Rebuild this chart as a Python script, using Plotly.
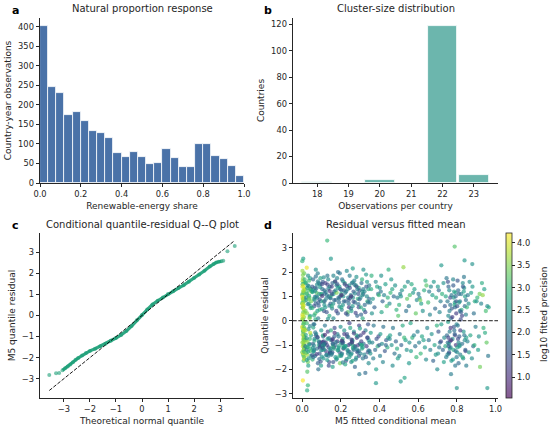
import plotly.graph_objects as go
import plotly.colors as pc

# ---------------- Panel a: histogram of renewable-energy share ----------------
a_bin_centers = [0.02, 0.06, 0.10, 0.14, 0.18, 0.22, 0.26, 0.30, 0.34, 0.38,
                 0.42, 0.46, 0.50, 0.54, 0.58, 0.62, 0.66, 0.70, 0.74, 0.78,
                 0.82, 0.86, 0.90, 0.94, 0.98]
a_counts = [403, 246, 231, 175, 181, 159, 134, 128, 115, 78,
            67, 79, 67, 50, 52, 86, 63, 42, 41, 99,
            101, 70, 62, 44, 17]
a_bin_width = 0.04

# ---------------- Panel b: cluster sizes ----------------
b_obs_per_country = [18, 19, 20, 21, 22, 23]
b_countries = [1, 0, 2, 0, 119, 6]

# ---------------- Panel c: Q-Q plot (theoretical, sample) ----------------
qq_theo = [-3.56, -3.30, -3.18, -3.05, -2.95, -2.85, -2.75, -2.65, -2.55, -2.45,
           -2.30, -2.15, -2.00, -1.80, -1.60, -1.40, -1.20, -1.00, -0.80, -0.60,
           -0.40, -0.20, 0.00, 0.20, 0.40, 0.60, 0.80, 1.00, 1.20, 1.40,
           1.60, 1.80, 2.00, 2.20, 2.40, 2.60, 2.75, 2.85, 2.95, 3.05,
           3.12, 3.28, 3.56]
qq_samp = [-2.82, -2.74, -2.73, -2.60, -2.50, -2.42, -2.32, -2.22, -2.10, -2.02,
           -1.90, -1.78, -1.68, -1.58, -1.46, -1.34, -1.20, -1.07, -0.92, -0.74,
           -0.50, -0.22, 0.02, 0.28, 0.52, 0.70, 0.86, 1.02, 1.15, 1.30,
           1.44, 1.60, 1.78, 1.95, 2.12, 2.32, 2.45, 2.52, 2.55, 2.57,
           2.60, 3.05, 3.30]

# ---------------- Panel d: residual vs fitted mean (hand-read, by strip of fitted mean) ----------------
d_strips = {}
d_strips["A"] = (
    [0.006,0.001,0.011,0.004,0.009,0.002,0.013,0.007,0.003,0.010,
     0.005,0.012,0.001,0.008,0.003,0.010,0.006,0.002,0.011,0.004,
     0.009,0.007,0.001,0.012,0.005,0.008,0.003,0.010,0.006,0.013,
     0.002,0.009,0.004,0.011,0.007,0.001,0.005,0.012,0.008,0.003,
     0.010,0.006,0.002,0.009,0.004],
    [2.55,2.45,1.95,1.72,1.55,1.40,1.28,1.15,1.05,0.95,
     0.88,0.80,0.72,0.65,0.55,0.45,0.35,0.25,0.15,0.05,
     -0.05,-0.15,-0.25,-0.35,-0.42,-0.50,-0.58,-0.66,-0.74,-0.82,
     -0.90,-0.98,-1.06,-1.14,-1.22,-1.30,-1.40,-1.52,-1.65,1.62,
     1.20,0.60,-0.30,-0.78,-2.46],
    [2.6,2.9,3.3,3.6,3.1,3.9,3.4,2.8,3.7,3.2,
     4.0,3.5,3.0,3.8,2.7,4.1,3.3,3.9,3.6,3.0,
     3.4,2.9,4.0,3.7,3.2,4.2,3.5,2.8,3.9,3.1,
     3.6,3.3,4.0,2.7,3.8,3.4,3.1,3.6,3.0,3.7,
     3.5,4.1,3.9,3.2,4.2])
d_strips["A2"] = (
    [0.004,0.010,0.001,0.007,0.013,0.003,0.009,0.005,0.011,0.002,
     0.008,0.012,0.006,0.001,0.010,0.004,0.013,0.007,0.003,0.009,
     0.005,0.011,0.002,0.008,0.006,0.012,0.001,0.010,0.004,0.007],
    [1.88,-0.62,1.08,-1.35,0.32,1.50,-0.95,0.78,-1.58,2.05,
     -0.12,1.33,-0.45,0.98,-1.18,0.52,1.70,-0.85,0.18,-1.48,
     1.22,-0.28,0.68,-1.02,1.45,-0.70,0.08,-1.28,0.90,-0.38],
    [3.5,3.9,3.2,4.1,3.7,3.0,3.8,3.4,4.0,3.6,
     3.3,3.9,3.1,4.2,3.5,3.8,3.0,3.6,4.0,3.3,
     3.7,3.2,3.9,3.5,4.1,3.4,3.8,3.0,3.6,3.9])
d_strips["B"] = (
    [0.031,0.019,0.044,0.026,0.038,0.022,0.047,0.029,0.035,0.018,
     0.041,0.024,0.033,0.046,0.020,0.037,0.028,0.043,0.025,0.034,
     0.017,0.040,0.030,0.045,0.021,0.036,0.027,0.042,0.023,0.039,
     0.032,0.024,0.030,0.026,0.027],
    [1.85,1.55,1.30,1.10,0.95,0.85,1.20,1.45,0.70,0.40,
     0.20,-0.10,-0.35,-0.60,-0.80,-0.95,-1.10,-1.25,-1.40,-1.55,
     -1.05,-0.75,-1.70,0.60,0.95,1.65,1.35,-0.50,-1.20,0.15,
     -1.85,2.18,-2.66,-2.87,-2.10],
    [2.4,3.0,2.1,2.7,3.3,2.5,3.6,2.2,2.9,3.4,
     2.6,3.1,2.3,2.8,3.5,2.0,2.7,3.2,3.7,2.4,
     1.9,3.0,3.4,2.6,2.2,3.1,2.5,3.8,2.1,2.9,
     2.6,4.1,3.0,2.8,3.2])
d_strips["B2"] = (
    [0.036,0.021,0.044,0.028,0.017,0.040,0.032,0.024,0.047,0.019,
     0.034,0.042,0.026,0.038,0.022,0.045,0.030,0.018,0.041,0.027,
     0.035,0.023,0.046,0.031,0.039],
    [1.02,-1.32,0.52,-0.88,1.58,-0.22,1.25,-1.62,0.80,-0.58,
     1.42,-1.15,0.30,-0.98,1.12,-1.45,0.68,-0.40,1.75,-1.08,
     0.88,-0.72,1.30,-1.28,0.10],
    [2.8,3.3,2.4,3.6,2.9,2.2,3.1,2.6,3.4,2.7,
     2.3,3.0,3.5,2.5,3.2,2.8,2.1,3.7,2.6,2.9,
     3.3,2.4,3.0,2.7,3.5])
d_strips["C"] = (
    [0.081,0.057,0.093,0.066,0.052,0.088,0.074,0.061,0.097,0.070,
     0.055,0.085,0.063,0.091,0.078,0.053,0.095,0.068,0.083,0.059,
     0.099,0.072,0.064,0.087,0.056,0.094,0.077,0.060,0.090,0.067,
     0.054,0.082,0.073,0.096,0.062,0.086,0.058,0.079,0.092,0.065,
     0.075,0.098,0.071,0.084,0.069],
    [1.95,1.70,1.50,1.35,1.20,1.10,1.00,0.90,0.80,0.70,
     1.25,1.55,0.60,0.45,0.95,1.40,1.75,0.30,0.10,-0.15,
     -0.40,-0.60,-0.75,-0.85,-0.95,-1.05,-1.15,-1.25,-1.35,-1.45,
     -1.60,-1.75,-0.55,-0.90,-1.20,-1.00,-1.50,-0.70,-1.10,0.85,
     1.15,-1.85,2.10,-2.00,0.05],
    [2.1,1.8,2.5,1.5,2.8,2.2,1.9,3.0,2.4,1.7,
     2.6,2.0,1.4,2.9,2.3,1.6,2.7,3.1,2.0,1.8,
     2.5,1.3,2.2,2.8,1.6,2.4,1.9,2.6,1.5,2.1,
     2.9,1.7,2.3,1.4,2.0,2.7,1.8,2.5,1.3,2.2,
     3.2,2.6,2.4,1.9,2.8])
d_strips["C2"] = (
    [0.073,0.056,0.091,0.064,0.082,0.052,0.097,0.068,0.086,0.059,
     0.077,0.094,0.062,0.089,0.054,0.080,0.066,0.099,0.071,0.058,
     0.084,0.061,0.093,0.075,0.053,0.088,0.067,0.096,0.079,0.063],
    [1.32,-1.12,0.88,-0.82,1.62,-1.42,1.08,-0.48,0.62,-1.28,
     1.48,-0.98,0.22,-1.58,1.18,-0.68,0.98,-1.22,1.82,-0.28,
     0.75,-1.02,1.38,-1.38,0.52,-0.88,1.22,-1.68,0.40,-0.15],
    [1.9,2.4,1.6,2.7,2.2,1.5,2.9,2.0,1.7,2.5,
     2.3,1.4,2.8,1.8,2.6,1.3,2.1,2.4,1.9,2.7,
     1.6,2.2,2.5,1.2,2.9,1.8,2.3,1.5,2.6,2.0])
d_strips["D"] = (
    [0.131,0.107,0.143,0.116,0.102,0.138,0.124,0.111,0.147,0.120,
     0.105,0.135,0.113,0.141,0.128,0.103,0.145,0.118,0.133,0.109,
     0.149,0.122,0.114,0.137,0.106,0.144,0.127,0.110,0.140,0.117,
     0.104,0.132,0.123,0.146,0.112,0.136,0.108,0.129,0.142,0.115,
     0.130,0.149],
    [1.85,1.60,1.40,1.25,1.10,1.00,0.90,0.80,0.70,0.55,
     1.30,1.70,0.40,0.20,1.05,1.50,0.95,-0.20,-0.45,-0.65,
     -0.80,-0.90,-1.00,-1.10,-1.20,-1.30,-1.40,-1.55,-1.70,-0.95,
     -1.05,-0.75,-1.25,-1.15,-0.85,-1.45,-0.60,-1.00,-1.35,0.65,
     3.30,2.55],
    [2.0,1.6,2.4,1.8,2.7,1.4,2.2,2.9,1.7,2.5,
     1.9,2.3,1.5,2.8,2.1,1.3,2.6,2.0,1.2,1.8,
     2.4,1.1,2.7,1.5,2.2,1.0,1.9,2.5,1.4,2.1,
     1.7,2.6,1.2,2.3,1.6,2.0,2.8,1.3,1.9,2.4,
     3.0,2.5])
d_strips["D2"] = (
    [0.123,0.106,0.141,0.114,0.132,0.102,0.147,0.118,0.136,0.109,
     0.127,0.144,0.112,0.139,0.104,0.130,0.116,0.149,0.121,0.108,
     0.134,0.111,0.143,0.125,0.103,0.138,0.117,0.146],
    [1.18,-0.88,0.62,-1.18,1.48,-1.48,0.92,-0.58,1.32,-1.02,
     0.35,-1.32,1.78,-0.72,1.02,-1.62,0.80,-0.40,1.55,-1.12,
     0.08,-0.95,1.22,-1.42,0.48,-1.85,1.12,-1.22],
    [2.2,1.1,1.9,2.6,1.4,2.4,1.8,0.9,2.1,2.7,
     1.5,1.3,2.3,2.0,1.0,2.5,1.7,2.8,1.2,1.6,
     2.4,1.9,1.1,2.2,2.6,1.4,1.8,2.3])
d_strips["E"] = (
    [0.181,0.157,0.193,0.166,0.152,0.188,0.174,0.161,0.197,0.170,
     0.155,0.185,0.163,0.191,0.178,0.153,0.195,0.168,0.183,0.159,
     0.199,0.172,0.164,0.187,0.156,0.194,0.177,0.160,0.190,0.167,
     0.154,0.182,0.173,0.196,0.162,0.186,0.158,0.179],
    [1.75,1.55,1.40,1.20,1.05,0.95,0.85,0.70,1.30,1.60,
     0.50,0.30,1.10,0.90,1.45,0.60,1.95,-0.30,-0.55,-0.75,
     -0.90,-1.00,-1.10,-1.20,-1.30,-1.45,-1.60,-0.95,-1.05,-0.65,
     -1.35,-0.85,-1.50,-1.75,0.10,2.00,-1.90,1.15],
    [2.2,1.7,2.6,1.5,2.9,2.0,1.8,2.4,1.3,2.7,
     2.1,1.6,2.5,1.9,2.3,2.8,2.0,1.4,2.2,1.1,
     2.6,1.8,1.0,2.4,1.5,2.9,2.1,1.3,2.7,1.7,
     2.0,1.2,2.5,3.4,2.3,1.9,2.6,3.5])
d_strips["E2"] = (
    [0.173,0.156,0.191,0.164,0.182,0.152,0.197,0.168,0.186,0.159,
     0.177,0.194,0.162,0.189,0.154,0.180,0.166,0.199,0.171,0.158,
     0.184,0.161,0.193,0.175,0.153,0.188],
    [1.25,-0.80,0.75,-1.15,1.50,-1.40,1.00,-0.50,1.35,-1.05,
     0.40,-1.30,1.85,-0.65,1.10,-1.55,0.85,-0.25,1.62,-0.95,
     -1.22,-1.70,0.58,-0.88,1.40,-1.12],
    [2.3,1.2,1.9,2.7,1.5,2.1,1.7,1.0,2.5,2.8,
     1.3,1.6,2.2,2.0,1.4,2.6,1.8,2.4,1.1,1.9,
     2.7,1.5,2.3,2.0,1.2,2.5])
d_strips["F"] = (
    [0.231,0.207,0.243,0.216,0.202,0.238,0.224,0.211,0.247,0.220,
     0.205,0.235,0.213,0.241,0.228,0.203,0.245,0.218,0.233,0.209,
     0.249,0.222,0.214,0.237,0.206,0.244,0.227,0.210,0.240,0.217,
     0.204,0.232,0.223,0.246,0.212,0.236],
    [2.05,1.70,1.45,1.25,1.10,0.95,0.80,0.65,1.35,1.55,
     0.45,0.25,1.00,0.85,1.20,0.55,-0.10,-0.40,-0.65,-0.85,
     -0.95,-1.05,-1.15,-1.25,-1.35,-1.50,-1.65,-0.75,-1.00,-1.10,
     -1.40,-0.55,-1.80,1.85,-0.90,0.35],
    [2.3,1.9,2.6,1.5,2.8,2.1,1.7,2.4,1.4,2.9,
     2.2,1.8,2.5,1.6,2.0,2.7,1.3,2.4,1.1,2.0,
     1.6,2.6,1.0,2.2,1.8,2.5,1.4,2.8,1.2,1.9,
     2.3,1.5,2.7,2.1,1.7,3.2])
d_strips["F2"] = (
    [0.223,0.206,0.241,0.214,0.232,0.202,0.247,0.218,0.236,0.209,
     0.227,0.244,0.212,0.239,0.204,0.230,0.216,0.249,0.221,0.208,
     0.234,0.211,0.243,0.225,0.203,0.238],
    [1.15,-0.82,0.70,-1.12,1.42,-1.45,0.92,-0.55,1.30,-1.00,
     0.30,-1.28,1.62,-0.68,1.05,-1.58,0.80,-0.30,1.50,-0.92,
     -1.20,-1.72,0.55,-1.05,1.25,-1.35],
    [2.1,1.0,1.9,2.6,1.3,2.4,1.6,1.2,2.2,2.8,
     1.4,1.7,2.3,2.0,0.9,2.5,1.8,2.7,1.3,1.5,
     2.4,2.1,1.1,2.6,1.9,2.2])
d_strips["G"] = (
    [0.281,0.257,0.293,0.266,0.252,0.288,0.274,0.261,0.297,0.270,
     0.255,0.285,0.263,0.291,0.278,0.253,0.295,0.268,0.283,0.259,
     0.299,0.272,0.264,0.287,0.256,0.294,0.277,0.260,0.290,0.267,
     0.254,0.282,0.273,0.296,0.262,0.286],
    [1.80,1.55,1.35,1.20,1.05,0.90,0.75,0.60,1.25,1.65,
     0.40,0.20,0.95,1.10,1.45,0.50,-0.20,-0.45,-0.70,-0.85,
     -0.95,-1.05,-1.15,-1.25,-1.35,-1.45,-1.60,-0.80,-1.00,-1.20,
     -1.70,-0.60,-1.90,-2.20,2.15,-1.30],
    [2.4,1.8,2.7,1.6,2.2,2.9,1.9,2.5,1.4,2.1,
     2.6,1.7,2.3,1.5,2.8,2.0,1.3,2.5,1.1,1.9,
     2.4,1.0,2.7,1.6,2.2,1.4,2.0,2.6,1.2,1.8,
     2.3,2.8,1.7,2.1,2.6,1.5])
d_strips["G2"] = (
    [0.273,0.256,0.291,0.264,0.282,0.252,0.297,0.268,0.286,0.259,
     0.277,0.294,0.262,0.289,0.254,0.280,0.266,0.299,0.271,0.258,
     0.284,0.261,0.293,0.275],
    [1.12,-0.78,0.68,-1.10,1.40,-1.40,0.88,-0.52,1.28,-0.98,
     0.32,-1.25,1.58,-0.65,1.00,-1.52,0.78,-0.32,1.48,-0.90,
     -1.18,-1.65,0.55,-1.08],
    [2.2,1.1,1.9,2.7,1.4,2.5,1.6,1.2,2.1,2.8,
     1.3,1.8,2.3,2.0,1.0,2.4,1.5,2.6,1.9,1.1,
     2.2,2.7,1.4,2.0])
d_strips["H"] = (
    [0.331,0.307,0.343,0.316,0.302,0.338,0.324,0.311,0.347,0.320,
     0.305,0.335,0.313,0.341,0.328,0.303,0.345,0.318,0.333,0.309,
     0.349,0.322,0.314,0.337,0.306,0.344,0.327,0.310,0.340,0.317],
    [1.90,1.55,1.30,1.10,0.95,0.80,0.65,1.20,1.45,0.45,
     0.25,1.00,0.10,-0.15,-0.40,-0.60,-0.80,-0.95,-1.05,-1.15,
     -1.25,-1.40,-1.55,-0.70,-1.00,-1.75,-2.15,1.70,-1.30,2.10],
    [2.5,1.9,2.7,1.6,2.2,2.9,1.8,2.4,2.0,2.6,
     1.7,2.3,2.8,1.5,2.1,1.3,2.5,1.9,1.2,2.7,
     1.6,2.2,2.0,1.4,2.6,2.3,1.8,2.9,1.5,2.4])
d_strips["H2"] = (
    [0.323,0.306,0.341,0.314,0.332,0.302,0.347,0.318,0.336,0.309,
     0.327,0.344,0.312,0.339,0.304,0.330,0.316,0.349],
    [1.20,-0.85,0.75,-1.10,1.40,-1.35,0.90,-0.50,1.60,-1.00,
     0.35,-1.22,1.05,-0.70,0.55,-1.50,1.30,-0.90],
    [2.3,1.3,1.9,2.6,1.6,2.2,1.8,1.1,2.5,2.7,
     1.4,2.0,2.4,1.5,2.8,1.7,2.1,2.3])
d_strips["I"] = (
    [0.381,0.357,0.393,0.366,0.352,0.388,0.374,0.361,0.397,0.370,
     0.355,0.385,0.363,0.391,0.378,0.353,0.395,0.368,0.383,0.359,
     0.399,0.382],
    [1.60,1.30,1.10,0.90,0.75,1.40,0.55,0.30,1.05,-0.20,
     -0.50,-0.75,-0.90,-1.05,-1.20,-1.35,-0.65,-1.55,-2.00,1.85,
     -1.00,-2.57],
    [2.3,2.8,1.9,2.5,2.1,2.7,1.7,2.4,3.0,2.0,
     2.6,1.5,2.2,2.8,1.8,2.4,1.4,2.1,2.6,2.9,
     1.6,2.5])
d_strips["J"] = (
    [0.431,0.407,0.443,0.416,0.402,0.438,0.424,0.411,0.447,0.420,
     0.405,0.435,0.413,0.441,0.428,0.403,0.445,0.418,0.433,0.409],
    [1.50,1.20,0.95,0.80,1.35,0.60,1.05,0.35,2.10,-0.25,
     -0.55,-0.80,-0.95,-1.10,-1.25,-1.45,-0.70,-1.70,-1.00,1.85],
    [2.6,2.0,2.9,1.7,2.4,3.1,2.2,2.7,2.9,1.9,
     2.5,1.6,2.3,2.8,1.5,2.1,2.6,2.2,1.8,2.4])
d_strips["K"] = (
    [0.481,0.457,0.493,0.466,0.452,0.488,0.474,0.461,0.497,0.470,
     0.455,0.485,0.463,0.491,0.478,0.453,0.495,0.468],
    [1.45,1.15,0.95,1.30,0.70,0.45,1.00,1.70,0.20,-0.30,
     -0.60,-0.85,-1.00,-1.15,-1.35,-0.75,-1.55,-1.85],
    [2.4,3.0,2.1,2.7,2.3,2.9,1.8,2.5,3.2,2.0,
     2.6,1.7,2.4,2.8,1.9,2.2,2.6,2.3])
d_strips["L"] = (
    [0.531,0.507,0.543,0.516,0.502,0.538,0.524,0.511,0.547,0.520,
     0.505,0.535,0.513,0.541,0.528,0.503,0.510,0.530],
    [1.40,1.10,0.90,1.25,0.65,0.40,2.20,1.00,1.60,-0.20,
     -0.55,-0.80,-1.00,-1.20,-0.70,-1.45,-2.50,-2.35],
    [2.7,2.1,3.3,2.4,2.9,1.9,3.6,2.5,2.2,2.8,
     2.0,2.6,1.7,2.4,3.0,2.2,2.5,2.7])
d_strips["M"] = (
    [0.581,0.557,0.593,0.566,0.552,0.588,0.574,0.561,0.597,0.570,
     0.555,0.585,0.563,0.591,0.578,0.553],
    [1.30,1.05,0.85,1.50,0.60,0.30,1.15,-0.10,-0.45,-0.70,
     -0.90,-1.05,-1.25,-1.50,-0.60,-1.75],
    [2.6,3.1,2.3,2.8,2.0,3.3,2.5,2.7,2.1,2.9,
     2.4,1.9,2.6,3.0,2.2,2.5])
d_strips["N"] = (
    [0.631,0.607,0.643,0.616,0.602,0.638,0.624,0.611,0.647,0.620,
     0.605,0.635,0.613,0.641,0.628],
    [1.25,0.95,1.45,0.70,1.10,1.65,0.40,0.85,-0.30,-0.65,
     -0.90,-1.10,-1.35,-1.60,-0.80],
    [2.8,2.3,3.2,2.6,2.0,2.9,2.4,3.4,2.2,2.7,
     2.1,2.5,3.0,2.3,2.6])
d_strips["O"] = (
    [0.681,0.657,0.693,0.666,0.652,0.688,0.674,0.661,0.697,0.670,
     0.655,0.685,0.663,0.691,0.678,0.699],
    [1.60,1.20,0.95,1.40,0.75,0.50,1.05,0.25,-0.20,-0.55,
     -0.80,-1.00,-1.20,-1.40,-1.65,-2.00],
    [2.5,2.0,2.8,2.3,3.1,1.8,2.6,2.2,2.9,2.4,
     1.9,2.7,2.1,2.5,1.7,2.3])
d_strips["P"] = (
    [0.731,0.707,0.743,0.716,0.702,0.738,0.724,0.711,0.747,0.720,
     0.705,0.735,0.713,0.741,0.728,0.703,0.745,0.718,0.733,0.709,
     0.720,0.749],
    [1.55,1.25,1.00,0.80,1.40,0.60,1.10,0.35,1.75,-0.15,
     -0.45,-0.70,-0.90,-1.05,-1.20,-1.35,-1.50,-0.85,-1.70,-1.10,
     2.28,-0.60],
    [2.4,1.8,2.7,2.1,2.5,1.6,2.9,2.2,2.0,2.6,
     1.5,2.3,1.9,2.8,1.7,2.4,2.1,1.4,2.6,2.0,
     2.5,1.8])
d_strips["Q"] = (
    [0.781,0.757,0.793,0.766,0.752,0.788,0.774,0.761,0.797,0.770,
     0.755,0.785,0.763,0.791,0.778,0.753,0.795,0.768,0.783,0.759,
     0.799,0.772,0.764,0.787,0.756,0.794,0.770,0.760,0.790,0.789],
    [1.70,1.40,1.15,0.95,0.80,0.65,0.50,1.25,0.30,0.10,
     -0.05,-0.25,-0.45,-0.60,-0.75,-0.90,-1.00,-1.10,-1.20,-1.35,
     -1.50,-1.65,-0.85,-0.40,0.20,1.00,-2.20,-1.30,0.75,3.05],
    [2.2,1.7,2.5,1.4,2.0,2.8,1.6,2.3,1.2,1.9,
     2.6,1.5,2.1,1.3,2.4,1.8,1.1,2.2,2.7,1.6,
     2.0,2.5,1.4,1.9,2.3,1.7,2.1,1.5,2.6,3.2])
d_strips["Q2"] = (
    [0.773,0.756,0.791,0.764,0.782,0.752,0.797,0.768,0.786,0.759,
     0.777,0.794,0.762,0.789,0.754,0.780,0.766,0.799,0.771,0.758,
     0.784,0.792],
    [1.05,-0.70,0.55,-1.15,1.45,-1.40,0.80,-0.30,1.20,-0.95,
     0.15,-1.25,0.40,-0.55,1.60,-1.60,0.65,-0.15,-0.80,-1.05,
     0.95,-1.85],
    [2.0,1.3,1.8,2.4,1.6,2.2,1.5,1.1,2.6,2.3,
     1.2,1.9,2.1,1.7,1.4,2.5,1.9,2.2,1.0,1.6,
     2.4,2.0])
d_strips["R"] = (
    [0.831,0.807,0.843,0.816,0.802,0.838,0.824,0.811,0.847,0.820,
     0.805,0.835,0.813,0.841,0.828,0.803,0.845,0.818,0.833,0.809,
     0.849,0.822,0.814,0.837,0.800,0.840],
    [1.55,1.25,1.00,0.80,0.60,1.35,0.45,1.10,0.25,0.05,
     -0.20,-0.45,-0.65,-0.80,-0.95,-1.10,-1.25,-1.40,-1.55,-1.75,
     -0.70,0.35,-1.00,1.80,-2.77,2.48],
    [2.3,1.8,2.6,2.1,1.5,2.4,2.8,1.7,2.2,1.4,
     2.0,2.5,1.6,2.3,1.9,2.7,1.3,2.1,2.4,1.8,
     2.6,1.6,2.2,2.0,2.4,2.5])
d_strips["R2"] = (
    [0.823,0.806,0.841,0.814,0.832,0.802,0.847,0.818,0.836,0.809,
     0.827,0.844,0.812,0.839,0.804,0.830,0.816,0.849],
    [1.10,-0.75,0.60,-1.05,1.40,-1.30,0.85,-0.40,1.20,-0.90,
     0.20,-1.20,0.75,-0.60,1.65,-1.50,0.40,-1.85],
    [2.1,1.4,1.8,2.5,1.6,2.3,1.9,1.2,2.6,2.2,
     1.3,1.7,2.4,2.0,1.5,2.8,1.8,2.1])
d_strips["S"] = (
    [0.881,0.857,0.893,0.866,0.852,0.888,0.874,0.861,0.897,0.870,
     0.855,0.885,0.863,0.891,0.878,0.880],
    [1.40,1.05,0.80,1.60,0.55,0.30,1.15,0.70,-0.25,-0.60,
     -0.85,-1.05,-1.30,-1.00,-1.55,2.33],
    [2.5,2.0,2.8,2.3,3.0,1.9,2.6,2.4,2.1,2.7,
     2.2,1.8,2.5,2.9,2.3,2.4])
d_strips["T"] = (
    [0.942,0.906,0.958,0.918,0.930,0.902,0.950,0.926,0.965,0.938,
     0.914,0.954,0.910,0.962,0.920,0.946,0.958,0.934],
    [1.30,0.95,0.60,1.10,1.55,0.80,0.40,0.70,0.55,-0.30,
     -0.65,-0.90,-1.20,-1.45,-1.90,-0.50,-2.77,1.05],
    [2.6,3.0,2.3,3.4,2.8,2.5,3.1,2.2,2.7,2.9,
     2.4,3.3,2.6,2.0,3.4,2.8,2.5,3.6])

d_fitted, d_resid, d_logprec = [], [], []
for name, (xs, ys, cs) in d_strips.items():
    assert len(xs) == len(ys) == len(cs), (name, len(xs), len(ys), len(cs))
    d_fitted += xs
    d_resid += ys
    d_logprec += cs

colorbar_ticks = [1.0, 1.5, 2.0, 2.5, 3.0, 3.5, 4.0]

# ---------------- styling ----------------
FONT = "DejaVu Sans"
INK = "#262626"
BLUE = "#4a72a8"
TEAL = "#6cb6ad"
GREEN = "rgba(27,158,119,0.6)"
GREEN_LINE = "rgba(27,158,119,0.9)"


def rgba_scale(colors, alpha):
    out = []
    n = len(colors)
    for i, c in enumerate(colors):
        c = c.lstrip("#")
        r, g, b = int(c[0:2], 16), int(c[2:4], 16), int(c[4:6], 16)
        out.append([i / (n - 1), f"rgba({r},{g},{b},{alpha})"])
    return out

viridis_a = rgba_scale(pc.sequential.Viridis, 0.65)

W, H = 550, 430
def px(x0, x1):
    return [x0 / W, x1 / W]
def py(y_top, y_bot):
    return [1 - y_bot / H, 1 - y_top / H]

fig = go.Figure()

# a
fig.add_trace(go.Bar(x=a_bin_centers, y=a_counts, width=a_bin_width,
                     marker=dict(color=BLUE, line=dict(color="white", width=0.8)),
                     xaxis="x", yaxis="y", showlegend=False))
# b
fig.add_trace(go.Bar(x=b_obs_per_country, y=b_countries, width=0.95,
                     marker=dict(color=TEAL, line=dict(color="white", width=0.8)),
                     xaxis="x2", yaxis="y2", showlegend=False))
# c: dense body as line plus markers
fig.add_trace(go.Scatter(x=qq_theo[3:-3], y=qq_samp[3:-3], mode="lines",
                         line=dict(color=GREEN_LINE, width=3.2),
                         xaxis="x3", yaxis="y3", showlegend=False))
fig.add_trace(go.Scatter(x=qq_theo, y=qq_samp, mode="markers",
                         marker=dict(color=GREEN, size=4),
                         xaxis="x3", yaxis="y3", showlegend=False))
fig.add_trace(go.Scatter(x=[min(qq_theo), max(qq_theo)], y=[min(qq_theo), max(qq_theo)],
                         mode="lines", line=dict(color="black", width=0.9, dash="3.7px,1.6px"),
                         xaxis="x3", yaxis="y3", showlegend=False))
# d
fig.add_trace(go.Scatter(
    x=d_fitted, y=d_resid, mode="markers",
    marker=dict(size=4.3, color=d_logprec, colorscale=viridis_a, cmin=0.54, cmax=4.22,
                line=dict(width=0),
                colorbar=dict(x=506 / W, xanchor="left", y=1 - 398 / H, yanchor="bottom",
                              len=165 / H, lenmode="fraction", thickness=6, xpad=0, ypad=0,
                              outlinewidth=0.8, outlinecolor=INK,
                              tickvals=colorbar_ticks,
                              ticktext=[f"{v:.1f}" for v in colorbar_ticks],
                              ticks="outside", ticklen=3.5, tickwidth=0.8, tickcolor=INK,
                              tickfont=dict(family=FONT, size=8.3, color=INK))),
    xaxis="x4", yaxis="y4", showlegend=False))

axis_common = dict(showline=True, linecolor=INK, linewidth=0.8, ticks="outside",
                   ticklen=3.5, tickwidth=0.8, tickcolor=INK, showgrid=False,
                   zeroline=False, mirror=False, automargin=False,
                   tickfont=dict(family=FONT, size=8.3, color=INK))
title_font = dict(family=FONT, size=9, color=INK)

fig.update_layout(
    width=W, height=H, margin=dict(l=0, r=0, t=0, b=0, autoexpand=False),
    paper_bgcolor="white", plot_bgcolor="white", bargap=0,
    font=dict(family=FONT, color=INK),
    xaxis=dict(domain=px(40, 244), anchor="y", range=[0, 1],
               tickvals=[0, 0.2, 0.4, 0.6, 0.8, 1.0], tickformat=".1f",
               title=dict(text="Renewable-energy share", font=title_font, standoff=4),
               **axis_common),
    yaxis=dict(domain=py(18, 183), anchor="x", range=[0, 423],
               tickvals=[0, 50, 100, 150, 200, 250, 300, 350, 400],
               title=dict(text="Country-year observations", font=title_font, standoff=4),
               **axis_common),
    xaxis2=dict(domain=px(293, 498), anchor="y2", range=[17.2275, 23.7725],
                tickvals=b_obs_per_country,
                title=dict(text="Observations per country", font=title_font, standoff=4),
                **axis_common),
    yaxis2=dict(domain=py(18, 183), anchor="x2", range=[0, 124.95],
                tickvals=[0, 20, 40, 60, 80, 100, 120],
                title=dict(text="Countries", font=title_font, standoff=4),
                **axis_common),
    xaxis3=dict(domain=px(40, 244), anchor="y3", range=[-3.916, 3.916],
                tickvals=[-3, -2, -1, 0, 1, 2, 3],
                title=dict(text="Theoretical normal quantile", font=title_font, standoff=4),
                **axis_common),
    yaxis3=dict(domain=py(233, 398), anchor="x3", range=[-3.916, 3.916],
                tickvals=[-3, -2, -1, 0, 1, 2, 3],
                title=dict(text="M5 quantile residual", font=title_font, standoff=4),
                **axis_common),
    xaxis4=dict(domain=px(293, 498), anchor="y4", range=[-0.047, 1.013],
                tickvals=[0, 0.2, 0.4, 0.6, 0.8, 1.0], tickformat=".1f",
                title=dict(text="M5 fitted conditional mean", font=title_font, standoff=4),
                **axis_common),
    yaxis4=dict(domain=py(233, 398), anchor="x4", range=[-3.18, 3.61],
                tickvals=[-3, -2, -1, 0, 1, 2, 3],
                title=dict(text="Quantile residual", font=title_font, standoff=4),
                **axis_common),
)

# horizontal reference at 0 in panel d
fig.add_shape(type="line", xref="x4 domain", yref="y4", x0=0, x1=1, y0=0, y1=0,
              line=dict(color="black", width=0.9, dash="3.7px,1.6px"))

# subplot titles, panel letters, colorbar label
titles = [("Natural proportion response", 142, 9),
          ("Cluster-size distribution", 395.5, 9),
          ("Conditional quantile-residual Q--Q plot", 142, 224),
          ("Residual versus fitted mean", 395.5, 224)]
for text, x, y in titles:
    fig.add_annotation(text=text, x=x / W, y=1 - y / H, xref="paper", yref="paper",
                       showarrow=False, xanchor="center", yanchor="middle",
                       font=dict(family=FONT, size=10, color=INK))
letters = [("a", 15, 10), ("b", 268, 10), ("c", 15, 225), ("d", 268, 225)]
for text, x, y in letters:
    fig.add_annotation(text=f"<b>{text}</b>", x=x / W, y=1 - y / H, xref="paper",
                       yref="paper", showarrow=False, xanchor="center", yanchor="middle",
                       font=dict(family=FONT, size=11, color="black"))
fig.add_annotation(text="log10 fitted precision", x=544 / W, y=1 - 315 / H,
                   xref="paper", yref="paper", showarrow=False, textangle=-90,
                   xanchor="center", yanchor="middle",
                   font=dict(family=FONT, size=9, color=INK))

fig.write_html("out.html", config={"displayModeBar": False},
               post_script="document.body.style.margin='0';document.body.style.padding='0';"
                           "document.body.style.overflow='hidden';")
